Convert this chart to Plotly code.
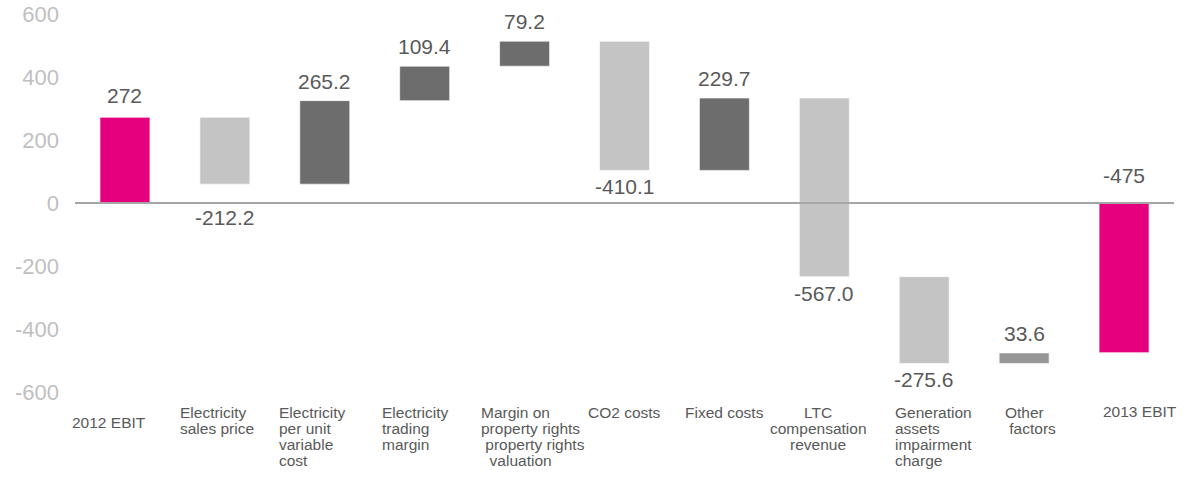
import plotly.graph_objects as go

# --- data -----------------------------------------------------------------
CATEGORIES = ["2012 EBIT", "Electricity sales price", "Electricity per unit variable cost",
              "Electricity trading margin", "Margin on property rights valuation",
              "CO2 costs", "Fixed costs", "LTC compensation revenue",
              "Generation assets impairment charge", "Other factors", "2013 EBIT"]
AXIS_LABELS = [["2012 EBIT"], ["Electricity", "sales price"],
               ["Electricity", "per unit", "variable", "cost"],
               ["Electricity", "trading", "margin"],
               ["Margin on", "property rights", " property rights", "  valuation"],
               ["CO2 costs"], ["Fixed costs"], ["LTC", "compensation", "revenue"],
               ["Generation", "assets", "impairment", "charge"], ["Other", " factors"], ["2013 EBIT"]]
VALUES = [272, -212.2, 265.2, 109.4, 79.2, -410.1, 229.7, -567.0, -275.6, 33.6, -475]
VALUE_TEXT = ["272", "-212.2", "265.2", "109.4", "79.2", "-410.1", "229.7", "-567.0",
              "-275.6", "33.6", "-475"]
KINDS = ["total"] + ["delta"] * 9 + ["total"]
TICK_VALS = [600, 400, 200, 0, -200, -400, -600]
TICK_TEXT = ["600", "400", "200", "0", "-200", "-400", "-600"]

# --- style ----------------------------------------------------------------
PINK = "#e6007e"
UP = "#6d6d6d"
DOWN = "#c4c4c4"
OTHER = "#969696"
TEXT = "#595959"
FONT = "Liberation Sans, Arial, sans-serif"

# label placement tweaks (pixels relative to bar centre / plot bottom)
LABEL_DX = [-55, -47, -48, -45, -46, -39, -41, -6, -31, -21, -23]
LABEL_DY = [-20, -10, -10, -10, -10, -10, -10, -10, -10, -10, -9]
LABEL_ANCHOR = ["left"] * 7 + ["center"] + ["left"] * 3
LINE_STEP = 16

bases, heights, colors = [], [], []
running = 0
for name, v, kind in zip(CATEGORIES, VALUES, KINDS):
    if kind == "total":
        bases.append(0)
        running = v
        colors.append(PINK)
    else:
        bases.append(running)
        running += v
        if name == "Other factors":
            colors.append(OTHER)
        else:
            colors.append(UP if v > 0 else DOWN)
    heights.append(v)

fig = go.Figure()
fig.add_trace(go.Bar(x=CATEGORIES, y=heights, base=bases,
                     marker=dict(color=colors, line=dict(color="rgba(255,255,255,0.6)", width=1)),
                     width=0.5, hoverinfo="skip"))

# zero line across the plot area only
fig.add_shape(type="line", xref="paper", x0=0, x1=1, y0=0, y1=0,
              line=dict(color="#a6a6a6", width=2), layer="above")

# value labels
for name, b, v, kind, txt in zip(CATEGORIES, bases, heights, KINDS, VALUE_TEXT):
    top = max(b, b + v)
    bottom = min(b, b + v)
    if kind == "total":
        fig.add_annotation(x=name, y=max(top, 0), text=txt, showarrow=False,
                           yanchor="bottom", yshift=8 if v > 0 else 14,
                           font=dict(size=21, color=TEXT, family=FONT))
    elif v > 0:
        fig.add_annotation(x=name, y=top, text=txt, showarrow=False,
                           yanchor="bottom", yshift=6,
                           font=dict(size=21, color=TEXT, family=FONT))
    else:
        y = 0 if 0 < bottom < 70 else bottom
        fig.add_annotation(x=name, y=y, text=txt, showarrow=False,
                           yanchor="top", yshift=-3 if y != 0 else -1,
                           font=dict(size=21, color=TEXT, family=FONT))

# category labels under the plot, one annotation per line for tight spacing
for name, lines, dx, dy, anc in zip(CATEGORIES, AXIS_LABELS, LABEL_DX, LABEL_DY, LABEL_ANCHOR):
    for k, line in enumerate(lines):
        fig.add_annotation(x=name, y=0, yref="paper", text=line.replace(" ", "&nbsp;"),
                           showarrow=False, xanchor=anc, align=anc, yanchor="top",
                           xshift=dx, yshift=dy - LINE_STEP * k,
                           font=dict(size=15.5, color=TEXT, family=FONT))

fig.update_layout(
    width=1184, height=480,
    margin=dict(l=75, r=10, t=14, b=88),
    plot_bgcolor="white", paper_bgcolor="white",
    showlegend=False,
    font=dict(family=FONT),
    xaxis=dict(range=[-0.5, 10.5], showticklabels=False, showgrid=False,
               zeroline=False, showline=False, ticks="", automargin=False),
    yaxis=dict(range=[-600, 600], tickvals=TICK_VALS, ticktext=TICK_TEXT,
               showgrid=False, showline=False, zeroline=False,
               ticks="", ticklabelstandoff=15, automargin=False,
               tickfont=dict(size=22, color="#bfbfbf", family=FONT)),
)

# drop the browser's default 8px body margin so the figure sits at the corner
fig.write_html("out.html", config={"displayModeBar": False},
               post_script="document.body.style.margin='0';")
